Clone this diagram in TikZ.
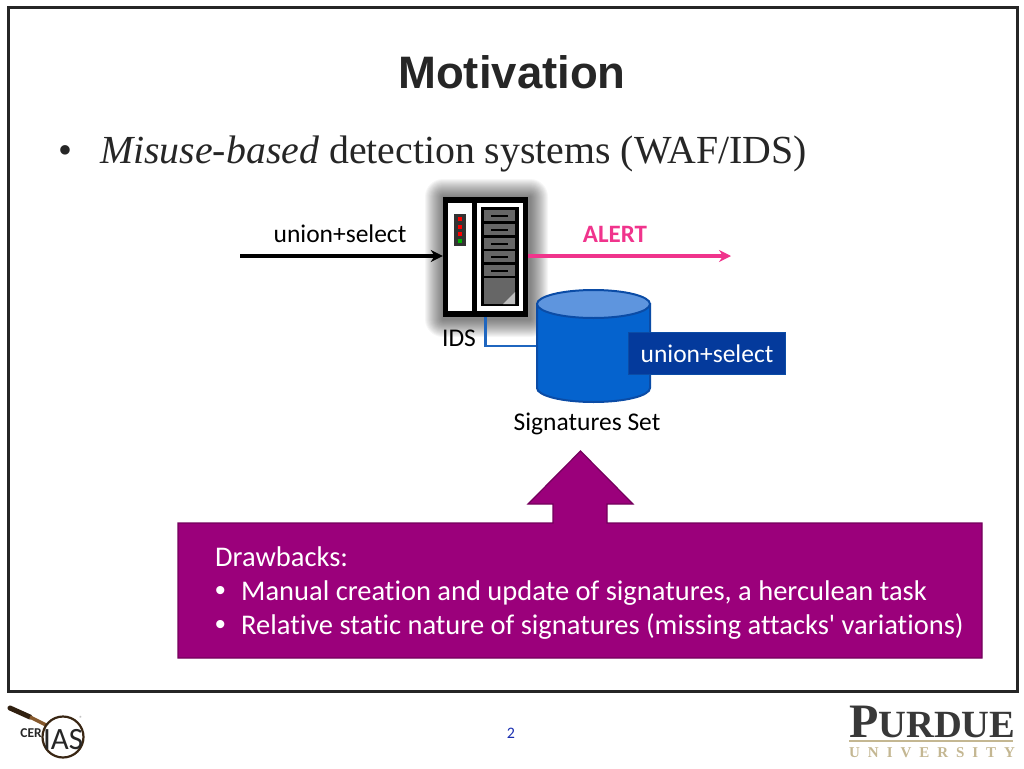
\documentclass[tikz,border=0pt]{standalone}
\usepackage{fontspec}
\setmainfont{Carlito}
\newfontfamily\sheetfont[Ligatures=NoCommon]{Carlito}
\newfontfamily\titlefont{Liberation Sans}
\newfontfamily\bodyfont{Liberation Serif}
\newfontfamily\univfont[LetterSpace=53]{Liberation Serif}
\usetikzlibrary{calc,positioning,arrows.meta}
\definecolor{alertpink}{HTML}{F0348C}
\definecolor{sigblue}{HTML}{0563CE}
\definecolor{sigtop}{HTML}{5E95DE}
\definecolor{sigedge}{HTML}{0B4CA6}
\definecolor{tagblue}{HTML}{043A9C}
\definecolor{wireblue}{HTML}{1F66BF}
\definecolor{drawback}{HTML}{9B007B}
\definecolor{drawedge}{HTML}{74005C}
\definecolor{slotgray}{HTML}{666666}
\definecolor{pagenum}{HTML}{1A2FB0}
\definecolor{logotan}{HTML}{C4B792}

\begin{document}
\begin{tikzpicture}[
    x=1pt, y=-1pt,
    >=Stealth,
    titletext/.style={font=\titlefont\bfseries\fontsize{45.5}{50}\selectfont, text=black!85, anchor=base},
    bodytext/.style={font=\bodyfont\fontsize{39.8}{44}\selectfont, text=black!85, anchor=base west, inner sep=0pt},
    label/.style={font=\fontsize{25.5}{28}\selectfont, text=black, anchor=base, inner sep=0pt},
    backtext/.style={font=\sheetfont\fontsize{28.5}{34}\selectfont, text=white, anchor=base west, inner sep=0pt},
    backdot/.style={font=\titlefont\fontsize{30}{34}\selectfont, text=white, anchor=base west, inner sep=0pt},
    flowarrow/.style={-{Stealth[length=12pt,width=12pt]}, line width=3.5pt},
    slot/.style={fill=slotgray, draw=none},
]
\useasboundingbox (0,0) rectangle (1024,768);

% ── Slide frame ──
\draw[line width=3pt, black!85] (8,8) rectangle (1017,691);

% ── Heading ──
\node[titletext] (title) at (512,88) {Motivation};
\node[bodytext] (dot) at (58,163) {•};
\node[bodytext] (heading) at (100,163) {\textit{Misuse-based} detection systems (WAF/IDS)};

% ── IDS box ──
% soft shadow
\foreach \s in {18,17,...,1} {
    \fill[black, opacity=0.036, rounded corners=\s pt]
        (443-\s,197-\s) rectangle (528+\s+2,317+\s+2);
}
\node[fill=black, draw=none, minimum width=85pt, minimum height=120pt, inner sep=0pt] (ids) at (485.5,257) {};
\fill[white] (448,203) rectangle (472,311);
\fill[white] (477,203) rectangle (523,311);
\fill[black] (481,207) rectangle (519,306);
\foreach \y in {210,224,238,251,265} {
    \fill[slot] (484,\y) rectangle (515,\y+11);
    \fill[black] (491,\y+5) rectangle (508,\y+6.5);
}
\fill[slot] (484,278) rectangle (515,304);
\fill[black!25] (515,292) -- (515,304) -- (503,304) -- cycle;
% lights
\fill[black!80] (454,214) rectangle (466,246);
\foreach \y/\c in {219/red,227/red,234/red,241/green!70!black} {
    \fill[\c] (457.7,\y-2.2) rectangle (462.3,\y+2.2);
}
\node[label] (idslabel) at (459,346) {IDS};

% ── Signature store ──
\node[minimum width=113pt, minimum height=113pt, inner sep=0pt] (sigset) at (593.5,346) {};
\draw[line width=2.5pt, wireblue] (ids.south) |- (sigset.west);
\draw[fill=sigblue, draw=sigedge, line width=2pt]
    (537,304) -- (537,388) arc[start angle=180, end angle=360, x radius=56.5pt, y radius=14pt]
    -- (650,304) -- cycle;
\draw[fill=sigtop, draw=sigedge, line width=2pt] (593.5,304) ellipse[x radius=56.5pt, y radius=14pt];
\node[label] (siglabel) at (587,430) {Signatures Set};
\node[draw=sigedge, fill=tagblue, line width=1.5pt, minimum width=157pt, minimum height=42pt,
      inner sep=0pt, text=white, font=\fontsize{25.5}{28}\selectfont] (sigtag) at (707,353.5) {union+select};

% ── Traffic arrows ──
\coordinate (insrc) at (240,256);
\coordinate (outend) at (731,256);
\draw[flowarrow, black] (insrc) -- (ids.west |- insrc);
\draw[flowarrow, alertpink] (ids.east |- outend) -- (outend);
\node[label] (inlabel) at (340,242) {union+select};
\node[label, text=alertpink, font=\bfseries\fontsize{25}{28}\selectfont] (alertlabel) at (615,242) {ALERT};

% ── Drawbacks callout ──
\draw[fill=drawback, draw=drawedge, line width=1.2pt]
    (178,523) -- (553,523) -- (553,504) -- (528,504) -- (580.5,451) -- (633,504)
    -- (607,504) -- (607,523) -- (982,523) -- (982,658) -- (178,658) -- cycle;
\node[backtext] (back0) at (215,566) {Drawbacks:};
\node[backdot] (dot1) at (215,600) {•};
\node[backtext] (back1) at (241,600) {Manual creation and update of signatures, a herculean task};
\node[backdot] (dot2) at (215,634) {•};
\node[backtext] (back2) at (241,634) {Relative static nature of signatures (missing attacks' variations)};

% ── Footer ──
\node[anchor=base, inner sep=0pt, text=pagenum, font=\fontsize{16}{18}\selectfont] (pageno) at (511,738) {2};

% cerias mark
\draw[line width=5pt, black!75!brown, line cap=round] (10,708) -- (30,717);
\draw[line width=3.5pt, brown!70!black] (30,717) -- (46,725);
\draw[line width=2.2pt, black!70!brown] (63,737) circle (20.5);
\node[anchor=base east, inner sep=0pt, font=\bfseries\fontsize{13.5}{16}\selectfont, text=black!85] (cer) at (42,737) {CER};
\node[anchor=base, inner sep=0pt, font=\fontsize{31}{36}\selectfont, text=black!85] (ias) at (63,749) {IAS};
\node[inner sep=0pt, font=\fontsize{6}{7}\selectfont, text=black!50] (regmark) at (81,718) {®};

% purdue mark
\node[anchor=base west, inner sep=0pt, font=\bodyfont\bfseries, text=black!78] (purdue) at (849,737)
    {\fontsize{48}{50}\selectfont P\fontsize{38.5}{50}\selectfont URDUE};
\draw[line width=1.2pt, logotan] (849,741) -- (1013,741);
\node[anchor=base west, inner sep=0pt, font=\univfont\bfseries\fontsize{15}{17}\selectfont, text=logotan] (univ) at (849,757) {UNIVERSITY};
\end{tikzpicture}
\end{document}
